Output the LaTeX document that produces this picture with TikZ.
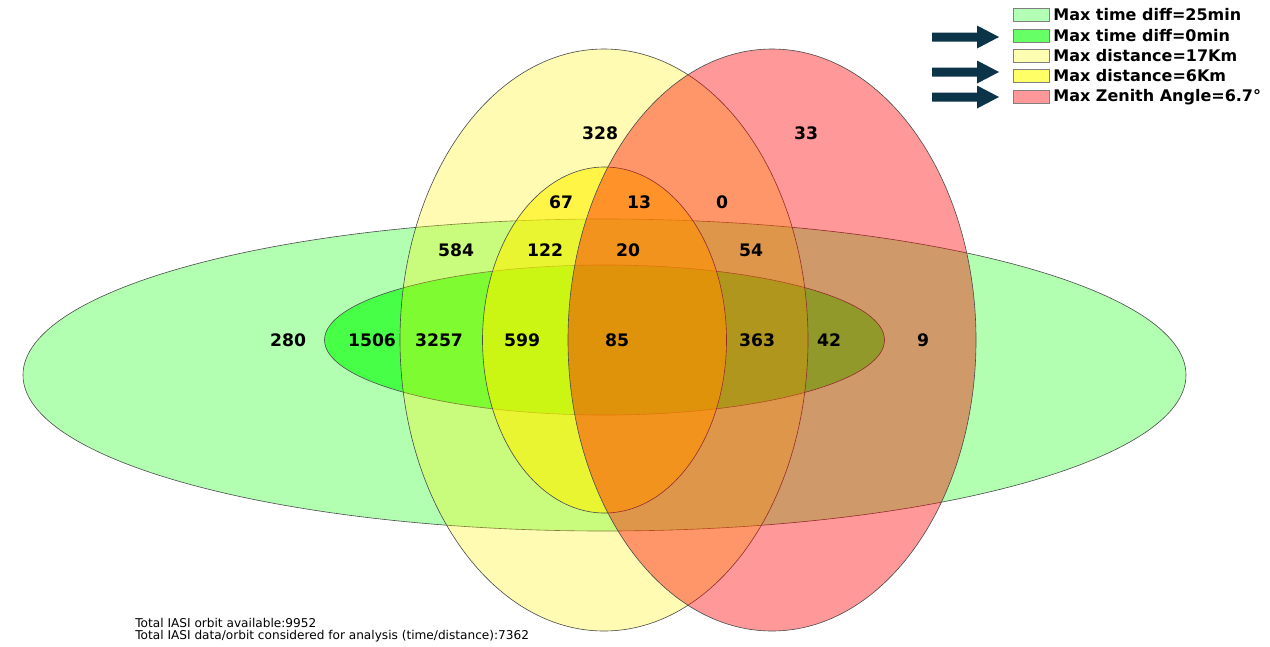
\documentclass[tikz,border=0pt]{standalone}
\usepackage{fontspec}
\setmainfont{DejaVu Sans}
\definecolor{arrowblue}{RGB}{11,52,72}
\definecolor{legA}{HTML}{B3FFB3}
\definecolor{legB}{HTML}{66FF66}
\definecolor{legC}{HTML}{FFFFB3}
\definecolor{legD}{HTML}{FFFF66}
\definecolor{legE}{HTML}{FF9999}
\begin{document}
\begin{tikzpicture}[x=0.02cm,y=-0.02cm,
  venn/.style={draw=black!70, line width=0.35pt},
  lbl/.style={font=\fontsize{9.8}{11}\selectfont\bfseries, inner sep=0pt},
  legbox/.style={draw=black!50, line width=0.5pt, minimum width=0.72cm, minimum height=0.26cm, inner sep=0pt},
  legtxt/.style={font=\fontsize{9.1}{10}\selectfont\bfseries, anchor=west, inner sep=0pt},
  note/.style={font=\fontsize{6.9}{8}\selectfont, anchor=west, inner sep=0pt},
  pointer/.style={fill=arrowblue}]
\useasboundingbox (0,0) rectangle (1270,646);
\fill[white] (0,0) rectangle (1270,646);
% sets
\draw[venn, fill=green, fill opacity=0.3] (604.5,375) ellipse [x radius=581.5, y radius=156];
\draw[venn, fill=green, fill opacity=0.6] (604.5,340) ellipse [x radius=280, y radius=75];
\draw[venn, fill=yellow, fill opacity=0.3] (604,340) ellipse [x radius=204, y radius=291];
\draw[venn, fill=yellow, fill opacity=0.6] (604.5,340) ellipse [x radius=122, y radius=173];
\draw[venn, fill=red, fill opacity=0.4] (772,340) ellipse [x radius=204, y radius=291];
% counts
\node[lbl] (n280) at (288,340) {280};
\node[lbl] (n1506) at (372,340) {1506};
\node[lbl] (n3257) at (439,340) {3257};
\node[lbl] (n599) at (522,340) {599};
\node[lbl] (n85) at (617,340) {85};
\node[lbl] (n363) at (757,340) {363};
\node[lbl] (n42) at (829,340) {42};
\node[lbl] (n9) at (923,340) {9};
\node[lbl] (n584) at (456,250) {584};
\node[lbl] (n122) at (545,250) {122};
\node[lbl] (n20) at (628,250) {20};
\node[lbl] (n54) at (751,250) {54};
\node[lbl] (n67) at (561,202) {67};
\node[lbl] (n13) at (639,202) {13};
\node[lbl] (n0) at (722,202) {0};
\node[lbl] (n328) at (600,133) {328};
\node[lbl] (n33) at (806,133) {33};
% legend
\node[legbox, fill=legA] (bA) at (1031,15) {};
\node[legbox, fill=legB] (bB) at (1031,36) {};
\node[legbox, fill=legC] (bC) at (1031,56) {};
\node[legbox, fill=legD] (bD) at (1031,76) {};
\node[legbox, fill=legE] (bE) at (1031,97) {};
\node[legtxt] (tA) at (1053,15) {Max time diff=25min};
\node[legtxt] (tB) at (1053,36) {Max time diff=0min};
\node[legtxt] (tC) at (1053,56) {Max distance=17Km};
\node[legtxt] (tD) at (1053,76) {Max distance=6Km};
\node[legtxt] (tE) at (1053,97) {Max Zenith Angle=6.7°};
% pointer arrows
\foreach \yy in {37,72,97}
  \fill[pointer] (932,\yy) ++(0,-4.5) -- ++(45,0) -- ++(0,-7) -- ++(22,11.5) -- ++(-22,11.5) -- ++(0,-7) -- ++(-45,0) -- cycle;
% notes
\node[note] (note1) at (135,623) {Total IASI orbit available:9952};
\node[note] (note2) at (135,636) {Total IASI data/orbit considered for analysis (time/distance):7362};
\end{tikzpicture}
\end{document}
